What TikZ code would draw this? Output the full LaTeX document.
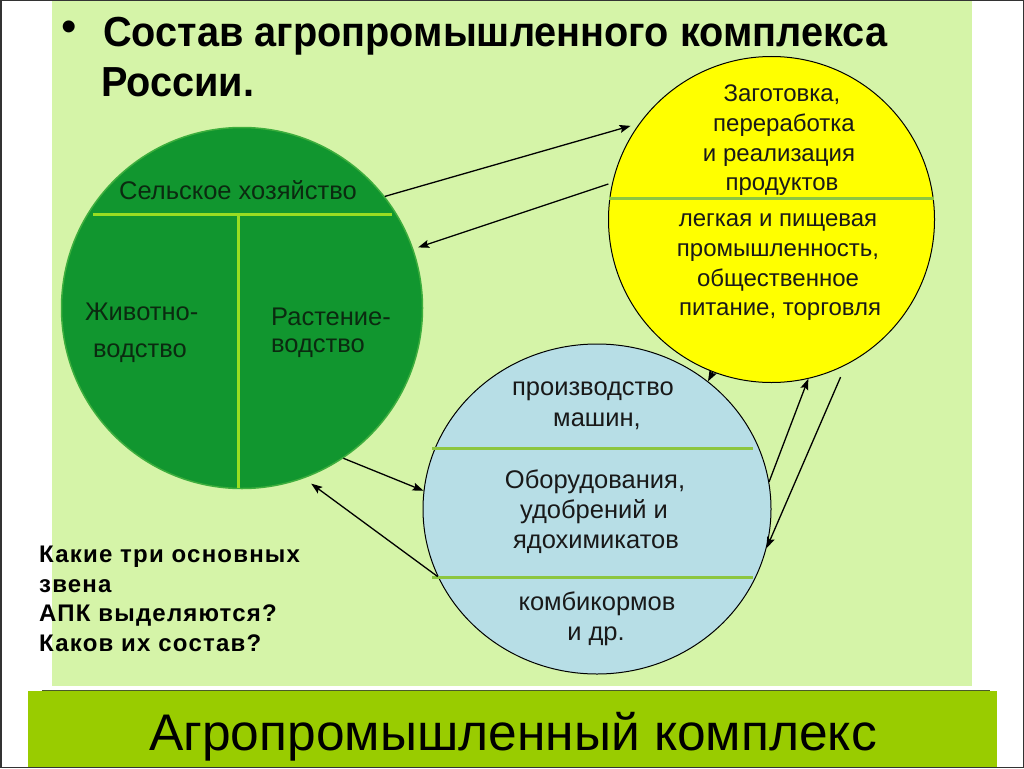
\documentclass[tikz,border=0pt]{standalone}
\usepackage{fontspec}
\setmainfont{Liberation Sans}
\newfontfamily\qfont[LetterSpace=5]{Liberation Sans}
\newfontfamily\titlefont[FakeStretch=0.945]{Liberation Sans}
\usetikzlibrary{arrows.meta,shapes.geometric}
\definecolor{panel}{HTML}{D5F4A8}
\definecolor{bar}{HTML}{99CC00}
\definecolor{greenfill}{HTML}{11962F}
\definecolor{greenedge}{HTML}{3DAE3D}
\definecolor{greenline}{HTML}{99DD22}
\definecolor{yellowfill}{HTML}{FFFF00}
\definecolor{bluefill}{HTML}{B7DEE6}
\definecolor{chord}{HTML}{8DC63F}
\definecolor{gtext}{HTML}{0B2A10}
\definecolor{barline}{HTML}{4A5A2A}
\begin{document}
\begin{tikzpicture}[x=1pt,y=-1pt,
  arr/.style={draw=black, line width=1.3pt, -{Stealth[length=11pt,width=8pt,inset=2pt]}},
  gtxt/.style={inner sep=0pt, text=gtext, font=\fontsize{25.5}{30}\selectfont, anchor=base west},
  ytxt/.style={inner sep=0pt, anchor=base, text=black!90, font=\fontsize{24}{29}\selectfont},
  btxt/.style={inner sep=0pt, anchor=base, text=black!90, font=\fontsize{25.5}{30}\selectfont},
  qtxt/.style={inner sep=0pt, anchor=base west, font=\qfont\bfseries\fontsize{24}{28}\selectfont},
  chordline/.style={draw=chord, line width=3.5pt},
  gline/.style={draw=greenline, line width=3pt}]
\useasboundingbox (0,0) rectangle (1024,768);
\fill[white] (0,0) rectangle (1024,768);
\fill[panel] (52,0) rectangle (972,686);
\fill[bar] (28,691) rectangle (997,768);
\draw[barline, line width=1.5pt] (42,690.5) -- (990,690.5);
\draw[black!80, line width=1.5pt] (0.75,0.75) rectangle (1023.25,767.25);

% title
\node[inner sep=0pt, font=\fontsize{44}{44}\selectfont] (bullet) at (69,31.5) {•};
\node[inner sep=0pt, anchor=base west, font=\titlefont\bfseries\fontsize{42}{50}\selectfont] (t1) at (103,46.5) {Состав агропромышленного комплекса};
\node[inner sep=0pt, anchor=base west, font=\titlefont\bfseries\fontsize{42}{50}\selectfont] (t2) at (101,96.5) {России.};

% circles
\node[circle, minimum size=361pt, inner sep=0pt, fill=greenfill, draw=greenedge, line width=1.5pt] (green) at (242,308) {};
\node[circle, minimum size=326pt, inner sep=0pt, fill=yellowfill, draw=black, line width=1pt] (yellow) at (771.5,219.5) {};
\node[ellipse, minimum width=348pt, minimum height=330pt, inner sep=0pt, fill=bluefill, draw=black, line width=1pt] (blue) at (597,509) {};

% green circle inner lines and text
\draw[gline] (93,214) -- (392,214);
\draw[gline] (238,214) -- (238,488);
\node[gtxt] (selh) at (119,199) {Сельское хозяйство};
\node[gtxt] (zh1) at (85,320) {Животно-};
\node[gtxt] (zh2) at (93,357) {водство};
\node[gtxt] (r1) at (271,325) {Растение-};
\node[gtxt] (r2) at (271,352) {водство};

% yellow circle
\draw[chordline, line width=3pt] (609,198.3) -- (934,198.3);
\node[ytxt] (y1) at (782,101.7) {Заготовка,};
\node[ytxt] (y2) at (784,131.7) {переработка};
\node[ytxt] (y3) at (779,161) {и реализация};
\node[ytxt] (y4) at (782,190.7) {продуктов};
\node[ytxt] (y5) at (778,226.7) {легкая и пищевая};
\node[ytxt] (y6) at (778,256.7) {промышленность,};
\node[ytxt] (y7) at (778,286.7) {общественное};
\node[ytxt] (y8) at (780,315) {питание, торговля};

% blue circle
\draw[chordline] (432,448.3) -- (753,448.3);
\draw[chordline] (432,577.3) -- (753,577.3);
\node[btxt] (b1) at (593,395) {производство};
\node[btxt] (b2) at (597,426) {машин,};
\node[btxt] (b3) at (595,488) {Оборудования,};
\node[btxt] (b4) at (594,518) {удобрений и};
\node[btxt] (b5) at (596,548) {ядохимикатов};
\node[btxt] (b6) at (597,610) {комбикормов};
\node[btxt] (b7) at (596,640) {и др.};

% question
\node[qtxt] (q1) at (39,562.5) {Какие три основных};
\node[qtxt] (q2) at (39,592.5) {звена};
\node[qtxt] (q3) at (39,621.5) {АПК выделяются?};
\node[qtxt] (q4) at (39,651.5) {Каков их состав?};

% bottom title
\node[inner sep=0pt, anchor=base, font=\fontsize{51.5}{60}\selectfont] (bottom) at (513,750) {Агропромышленный комплекс};

% arrows
\draw[arr, shorten >=9pt] (green.38) -- (yellow.144);
\draw[arr, shorten <=4pt, shorten >=5pt] (yellow.167) -- (green.19.5);
\draw[arr] (green.-56) -- (blue.174.7);
\draw[arr, shorten >=9pt] (blue.-157.6) -- (green.-70.9);
\draw[arr] (yellow.-111) -- (blue.49);
\draw[arr] (blue.9.4) -- (yellow.-77);
\draw[arr, shorten <=13pt] (yellow.-63.5) -- (blue.-13.9);
\end{tikzpicture}
\end{document}
